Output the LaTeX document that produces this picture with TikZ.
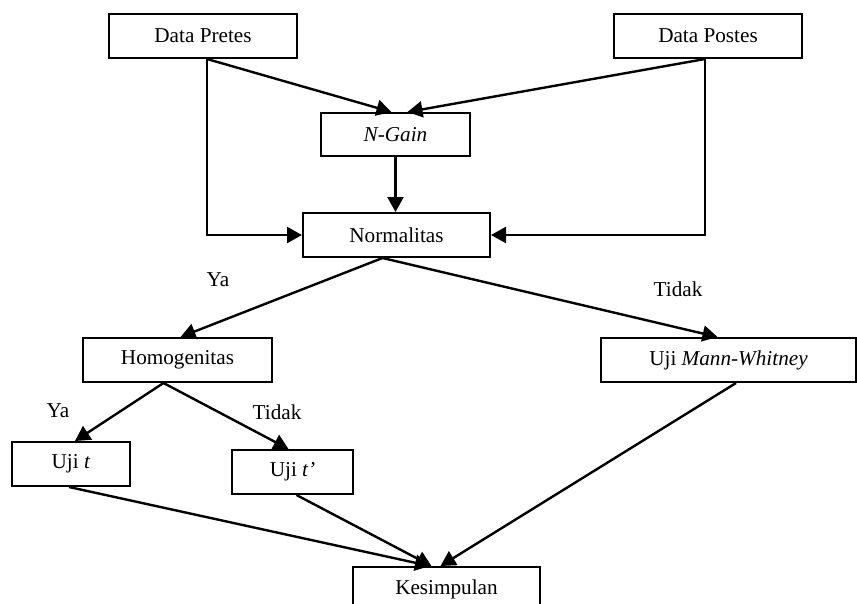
\documentclass[tikz,border=0pt]{standalone}
\usepackage{fontspec}
\setmainfont{Liberation Serif}
\usetikzlibrary{arrows.meta,calc}
\begin{document}
\begin{tikzpicture}[x=1pt,y=-1pt,
  box/.style={draw=black,line width=2pt,rectangle,inner sep=0pt,align=center,
    font=\fontsize{21.2}{25}\selectfont},
  lbl/.style={inner sep=0pt,font=\fontsize{21.2}{25}\selectfont},
  conn/.style={line width=2.4pt,-{Triangle[length=15pt,width=16pt]}}]
\useasboundingbox (0,0) rectangle (857,603);
\node[box,minimum width=188pt,minimum height=44pt] (pre) at (203,36) {Data Pretes};
\node[box,minimum width=188pt,minimum height=44pt] (post) at (708,36) {Data Postes};
\node[box,minimum width=149pt,minimum height=43pt] (ngain) at (395.5,134.5) {\textit{N-Gain}};
\node[box,minimum width=187pt,minimum height=44pt] (norm) at (396.5,235) {Normalitas};
\node[box,minimum width=189pt,minimum height=44pt] (homo) at (177.5,360) {Homogenitas};
\node[box,minimum width=255pt,minimum height=44pt] (mw) at (728.5,360) {Uji \textit{Mann-Whitney}};
\node[box,minimum width=118pt,minimum height=44pt] (ujit) at (71,464) {Uji \textit{t}};
\node[box,minimum width=121pt,minimum height=44pt] (ujitp) at (292.5,472) {Uji \textit{t’}};
\node[box,minimum width=187pt,minimum height=44pt] (kes) at (446.5,589) {Kesimpulan};

\node[lbl] (ya1) at (218,280) {Ya};
\node[lbl] (td1) at (678,289) {Tidak};
\node[lbl] (ya2) at (58,411) {Ya};
\node[lbl] (td2) at (277,412) {Tidak};

\draw[conn] ($(pre.south)+(4,0)$) -- ($(ngain.north)+(-4,0)$);
\draw[conn] ($(post.south)+(-3,0)$) -- ($(ngain.north)+(12,0)$);
\draw[conn] (ngain.south) -- (ngain.south |- norm.north);
\draw[conn] ($(pre.south)+(4,0)$) |- (norm.west);
\draw[conn] ($(post.south)+(-3,0)$) |- (norm.east);
\draw[conn] ($(norm.south)+(-14,0)$) -- ($(homo.north)+(3,0)$);
\draw[conn] ($(norm.south)+(-14,0)$) -- ($(mw.north)+(-11,0)$);
\draw[conn] ($(homo.south)+(-14,0)$) -- ($(ujit.north)+(4,0)$);
\draw[conn] ($(homo.south)+(-14,0)$) -- ($(ujitp.north)+(-4,0)$);
\draw[conn] ($(ujit.south)+(-2,0)$) -- ($(kes.north)+(-16.5,0)$);
\draw[conn] ($(ujitp.south)+(4,0)$) -- ($(kes.north)+(-15,0)$);
\draw[conn] ($(mw.south)+(7.5,0)$) -- ($(kes.north)+(-6,0)$);
\end{tikzpicture}
\end{document}
